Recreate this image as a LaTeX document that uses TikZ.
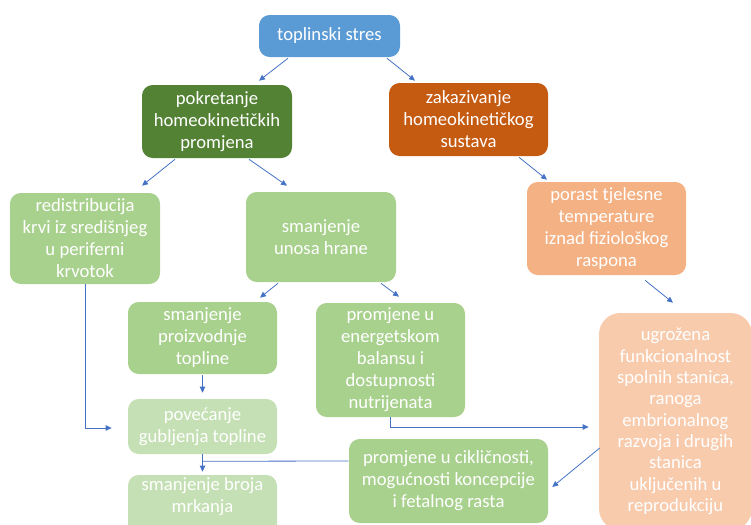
\documentclass[tikz,border=0pt]{standalone}
\usepackage{fontspec}
\setmainfont{Carlito}
\usetikzlibrary{arrows.meta,calc}
\definecolor{plava}{HTML}{5B9BD5}
\definecolor{tamnozelena}{HTML}{548235}
\definecolor{narancasta}{HTML}{C55A11}
\definecolor{zelena}{HTML}{A9D18E}
\definecolor{svijetlozelena}{HTML}{C5E0B4}
\definecolor{losos}{HTML}{F4B183}
\definecolor{svijetlilosos}{HTML}{F8CBAD}
\definecolor{strelica}{HTML}{4472C4}
\begin{document}
\begin{tikzpicture}[x=0.75pt,y=-0.75pt,
	kutija/.style={rounded corners=8pt,inner sep=0pt,align=center,text=white,
		font=\fontsize{14}{16.5}\selectfont},
	veza/.style={draw=strelica,line width=0.6pt,-{Triangle[length=4.5pt,width=4pt]}},
	linija/.style={draw=strelica,line width=0.6pt}]
	\useasboundingbox (0,0) rectangle (751,525);
	% prvi red
	\node[kutija,fill=plava,minimum width=105.75pt,minimum height=31.5pt] (stres) at (329.5,36) {toplinski stres};
	\node[kutija,fill=tamnozelena,minimum width=112.5pt,minimum height=54.75pt] (pokretanje) at (217,121.5) {pokretanje\\ homeokinetičkih\\ promjena};
	\node[kutija,fill=narancasta,minimum width=119.25pt,minimum height=54.75pt] (zakazivanje) at (468.5,119.5) {zakazivanje\\ homeokinetičkog\\ sustava};
	% drugi red
	\node[kutija,fill=zelena,minimum width=112.5pt,minimum height=68.25pt] (redistribucija) at (85,238.5) {redistribucija\\ krvi iz središnjeg\\ u periferni\\ krvotok};
	\node[kutija,fill=zelena,minimum width=112.5pt,minimum height=67.5pt] (unos) at (321,237) {smanjenje\\ unosa hrane};
	\node[kutija,fill=losos,minimum width=119.25pt,minimum height=69.75pt] (porast) at (606.5,228.5) {porast tjelesne\\ temperature\\ iznad fiziološkog\\ raspona};
	% treci red
	\node[kutija,fill=zelena,minimum width=111.75pt,minimum height=54pt] (proizvodnja) at (202.5,338) {smanjenje\\ proizvodnje\\ topline};
	\node[kutija,fill=zelena,minimum width=111.75pt,minimum height=85.5pt] (balans) at (390.5,360) {promjene u\\ energetskom\\ balansu i\\ dostupnosti\\ nutrijenata};
	\node[kutija,fill=svijetlilosos,rounded corners=16pt,minimum width=114.75pt,minimum height=162.75pt,
		font=\fontsize{14}{16}\selectfont] (ugrozena) at (675.5,421.5) {ugrožena\\ funkcionalnost\\ spolnih stanica,\\ ranoga\\ embrionalnog\\ razvoja i drugih\\ stanica\\ uključenih u\\ reprodukciju};
	\node[kutija,fill=svijetlozelena,minimum width=111.75pt,minimum height=41.25pt] (gubljenje) at (202.5,426.5) {povećanje\\ gubljenja topline};
	\node[kutija,fill=zelena,minimum width=149.25pt,minimum height=63pt] (ciklicnost) at (448.5,481) {promjene u cikličnosti,\\ mogućnosti koncepcije\\ i fetalnog rasta};
	\node[kutija,fill=svijetlozelena,minimum width=111.75pt,minimum height=48pt] (mrkanje) at (202.5,507) {smanjenje broja\\ mrkanja\\[2pt]};
	% strelice
	\draw[veza] ($(stres.south)+(-41.5,1)$) -- ($(pokretanje.north)+(42,-4)$);
	\draw[veza] ($(stres.south)+(57.5,1)$) -- ($(zakazivanje.north)+(-53.5,-2)$);
	\draw[veza] ($(pokretanje.south)+(-42,1)$) -- ($(redistribucija.north)+(57,-7)$);
	\draw[veza] ($(pokretanje.south)+(32,1)$) -- ($(unos.north)+(-34,-6)$);
	\draw[veza] ($(zakazivanje.south)+(50.5,1)$) -- ($(porast.north)+(-59.5,-2)$);
	\draw[veza] ($(unos.south)+(-43,1)$) -- ($(proizvodnja.north)+(57.5,-4)$);
	\draw[veza] ($(unos.south)+(60,1)$) -- ($(balans.north)+(8.5,-6)$);
	\draw[veza] ($(porast.south)+(38.5,5)$) -- ($(ugrozena.north)+(-2.5,-10)$);
	\draw[veza] ($(proizvodnja.south)+(0,1)$) -- ($(gubljenje.north)+(0,-6)$);
	\draw[veza] (redistribucija.south) |- ($(gubljenje.west)+(-16,1.5)$);
	\draw[veza] ($(balans.south)+(-0.5,0)$) |- ($(ugrozena.west)+(-10,5.5)$);
	\draw[veza] ($(ugrozena.west)+(1,26.5)$) -- ($(ciklicnost.east)+(4,6)$);
	\draw[veza] (gubljenje.south) -- ($(mrkanje.north)+(0,-3)$);
	\draw[linija] ($(ciklicnost.west)+(0,-20)$) -- ($(gubljenje.south)+(0,7)$);
\end{tikzpicture}
\end{document}
